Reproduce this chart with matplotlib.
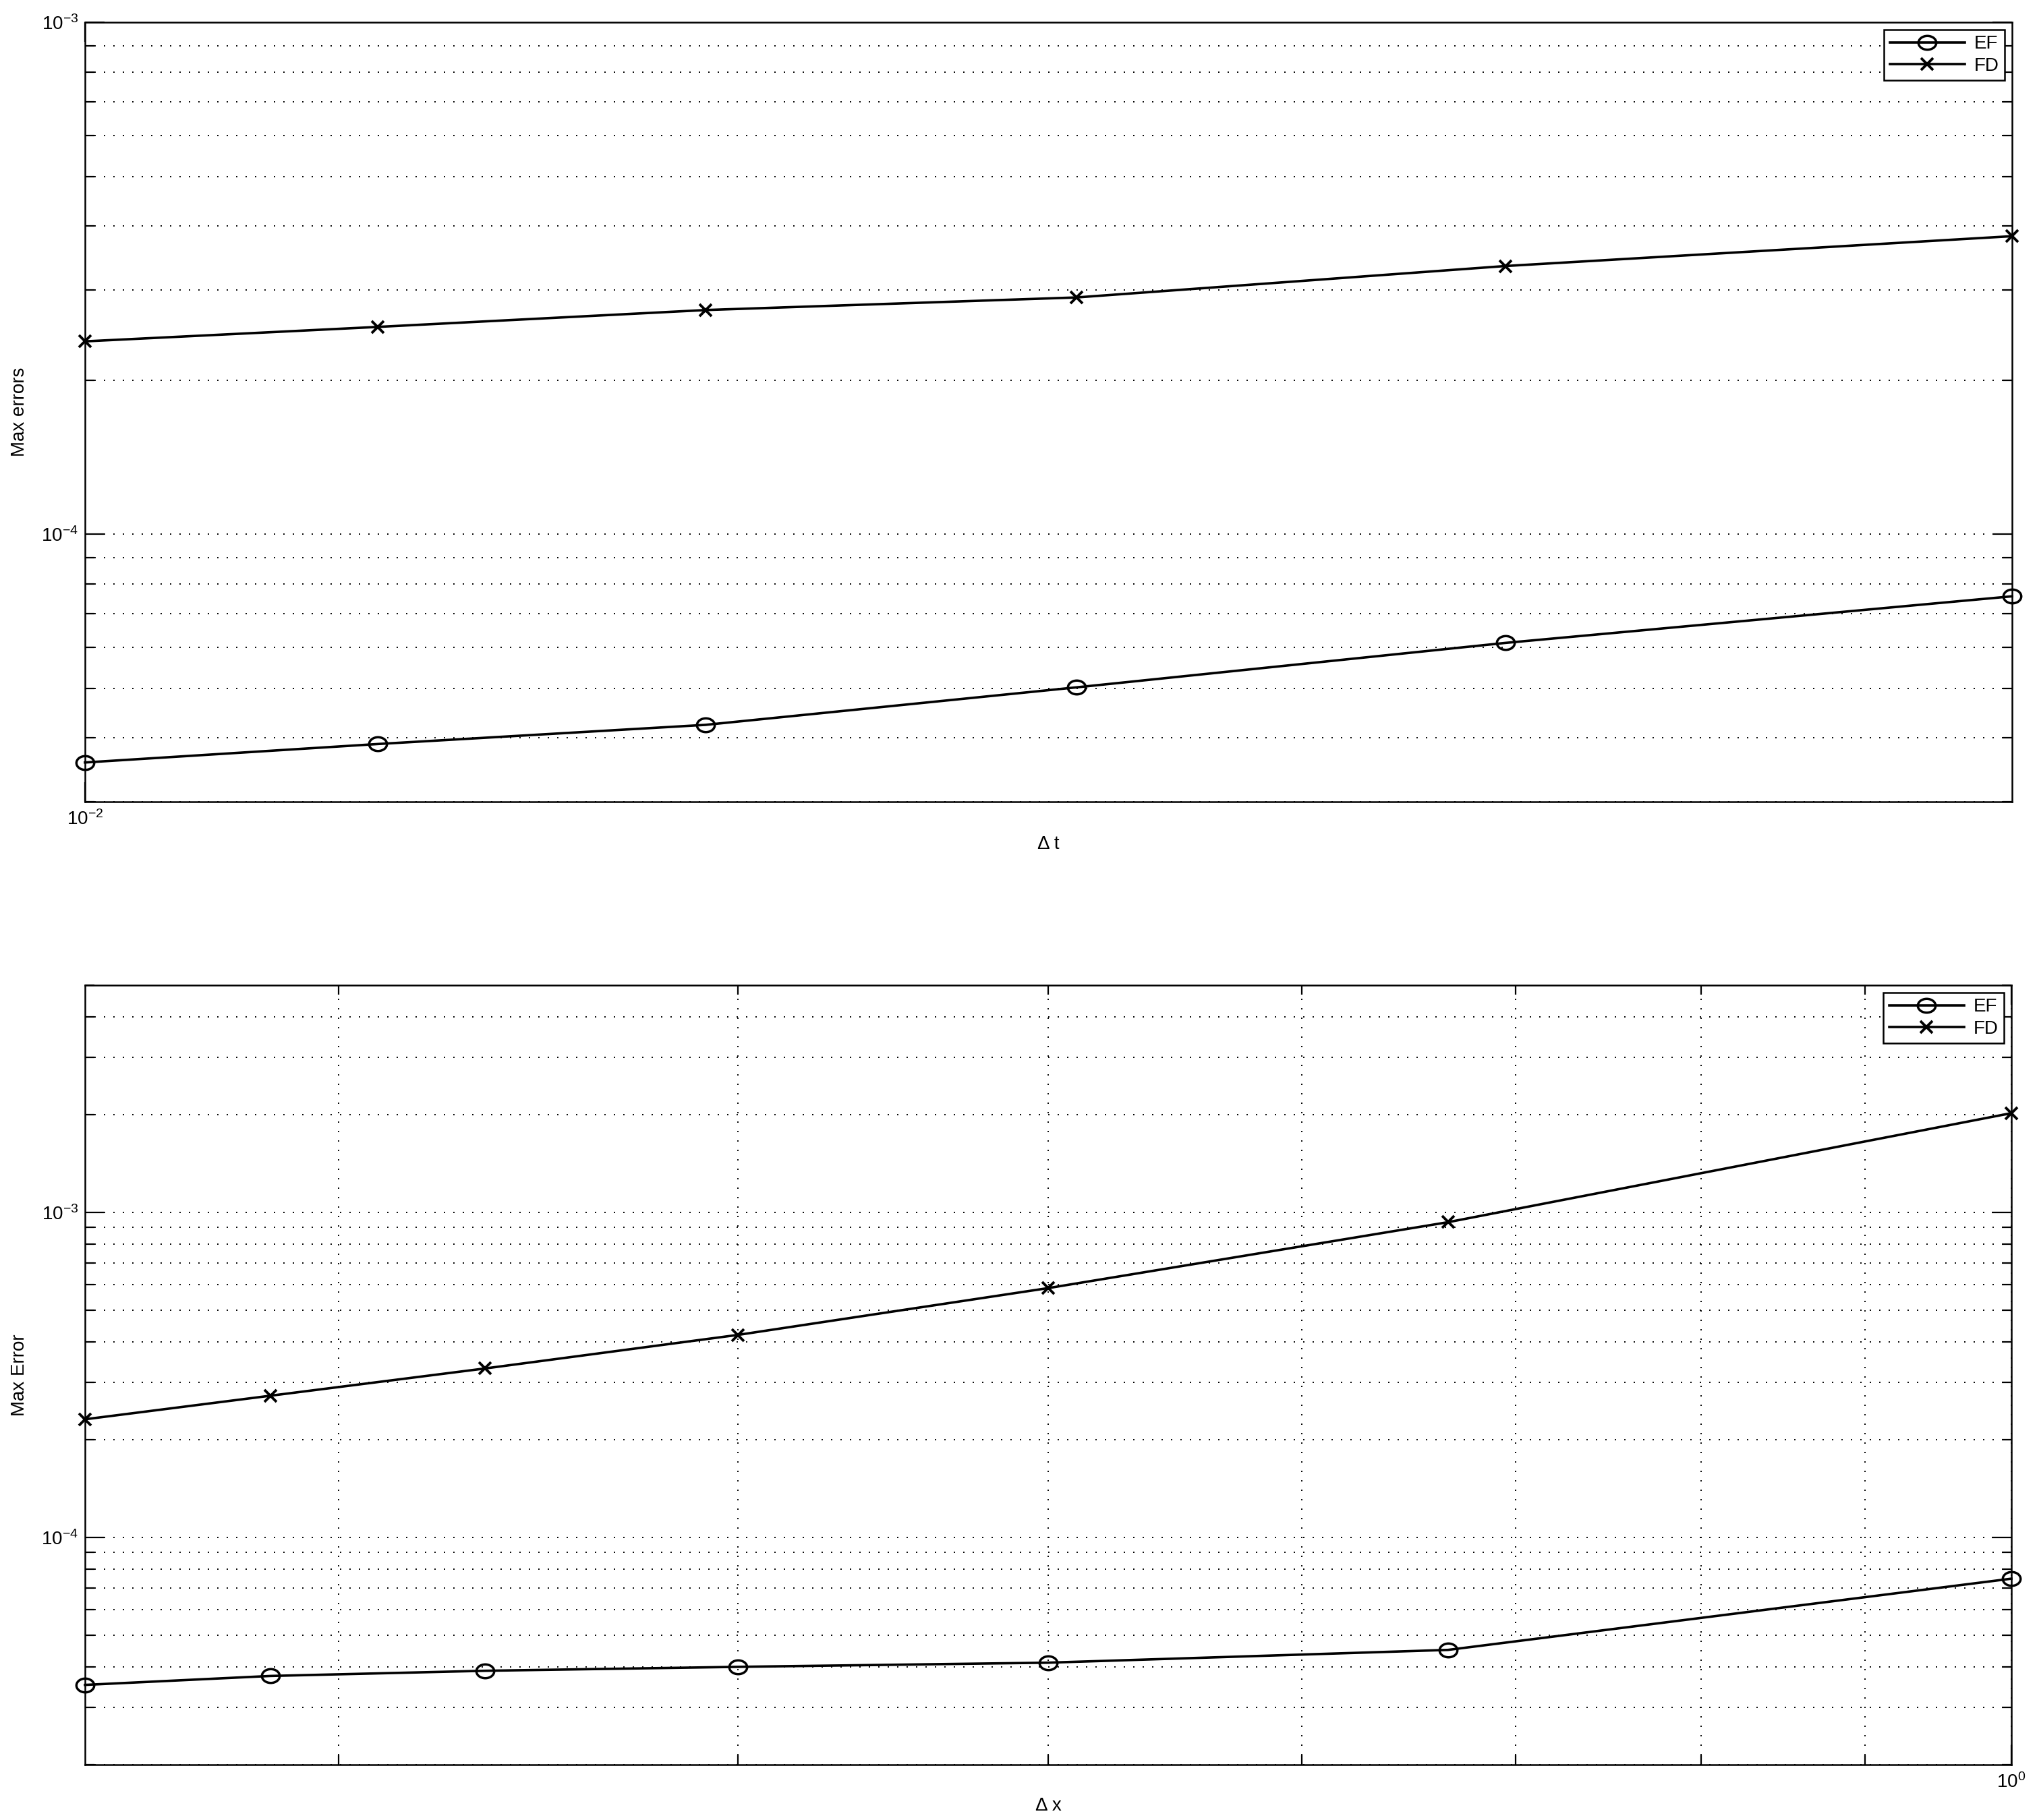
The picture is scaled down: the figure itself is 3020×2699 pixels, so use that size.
import matplotlib
matplotlib.use("Agg")
import matplotlib.pyplot as plt
from matplotlib.ticker import FixedLocator, LogFormatterMathtext, NullFormatter
from matplotlib.path import Path
from matplotlib.transforms import Affine2D

# ---------------- data ----------------
dt = [0.01, 0.011111, 0.0125, 0.014286, 0.016667, 0.02]
top_EF = [3.58e-5, 3.89e-5, 4.24e-5, 5.02e-5, 6.13e-5, 7.56e-5]
top_FD = [2.38e-4, 2.54e-4, 2.74e-4, 2.90e-4, 3.34e-4, 3.82e-4]

dx = [0.25, 0.285714, 0.333333, 0.4, 0.5, 0.666667, 1.0]
bot_EF = [3.52e-5, 3.75e-5, 3.89e-5, 4.00e-5, 4.12e-5, 4.51e-5, 7.47e-5]
bot_FD = [2.31e-4, 2.73e-4, 3.31e-4, 4.20e-4, 5.85e-4, 9.33e-4, 2.02e-3]

labels = ["EF", "FD"]
top_xlabel = "\u0394 t"
bot_xlabel = "\u0394 x"
top_ylabel = "Max errors"
bot_ylabel = "Max Error"

top_xlim = (0.01, 0.02)
top_ylim = (3e-5, 1e-3)
bot_xlim = (0.25, 1.0)
bot_ylim = (2e-5, 5e-3)

# ---------------- style ----------------
plt.rcParams['font.family'] = ['Liberation Sans', 'DejaVu Sans']
plt.rcParams['mathtext.fontset'] = 'custom'
plt.rcParams['mathtext.rm'] = 'Liberation Sans'
plt.rcParams['mathtext.it'] = 'Liberation Sans:italic'
plt.rcParams['mathtext.bf'] = 'Liberation Sans:bold'

FS = 20
ell = Path.unit_circle().transformed(Affine2D().scale(1.29, 1.0))

fig = plt.figure(figsize=(30.2, 26.99), dpi=100)
W, H = 3020, 2699

def make_axes(l, t, r, b):
    return fig.add_axes([l / W, 1 - b / H, (r - l) / W, (b - t) / H])

ax1 = make_axes(126, 33, 2983, 1189)
ax2 = make_axes(126, 1461, 2982, 2617)

grid_kw = dict(color='black', linestyle=(0, (1, 6.2)), linewidth=1.4)

def style(ax, xlim, ylim, xmaj, xmin, ymaj, ymin):
    ax.set_xscale('log')
    ax.set_yscale('log')
    ax.set_xlim(*xlim)
    ax.set_ylim(*ylim)
    ax.xaxis.set_major_locator(FixedLocator(xmaj))
    ax.xaxis.set_minor_locator(FixedLocator(xmin))
    ax.yaxis.set_major_locator(FixedLocator(ymaj))
    ax.yaxis.set_minor_locator(FixedLocator(ymin))
    ax.xaxis.set_major_formatter(LogFormatterMathtext())
    ax.yaxis.set_major_formatter(LogFormatterMathtext())
    ax.xaxis.set_minor_formatter(NullFormatter())
    ax.yaxis.set_minor_formatter(NullFormatter())
    ax.tick_params(which='both', direction='in', top=True, right=True,
                   labelsize=FS, width=1.6, color='black')
    ax.tick_params(which='major', length=21)
    ax.tick_params(which='minor', length=10)
    ax.tick_params(axis='x', which='major', pad=9)
    ax.tick_params(axis='y', which='major', pad=7)
    for s in ax.spines.values():
        s.set_linewidth(1.8)
    ax.grid(True, which='both', **grid_kw)
    ax.set_axisbelow(True)

style(ax1, top_xlim, top_ylim, [0.01], [],
      [1e-4, 1e-3], [3e-5, 4e-5, 5e-5, 6e-5, 7e-5, 8e-5, 9e-5,
                     2e-4, 3e-4, 4e-4, 5e-4, 6e-4, 7e-4, 8e-4, 9e-4])
style(ax2, bot_xlim, bot_ylim, [1.0], [0.3, 0.4, 0.5, 0.6, 0.7, 0.8, 0.9],
      [1e-4, 1e-3], [2e-5, 3e-5, 4e-5, 5e-5, 6e-5, 7e-5, 8e-5, 9e-5,
                     2e-4, 3e-4, 4e-4, 5e-4, 6e-4, 7e-4, 8e-4, 9e-4,
                     2e-3, 3e-3, 4e-3, 5e-3])

line_kw = dict(color='black', linewidth=2.6, clip_on=False, zorder=5)
o_kw = dict(marker=ell, markersize=19, markerfacecolor='none',
            markeredgecolor='black', markeredgewidth=2.5)
x_kw = dict(marker='x', markersize=13, markeredgecolor='black',
            markeredgewidth=2.8)

for ax, x, ef, fd in [(ax1, dt, top_EF, top_FD), (ax2, dx, bot_EF, bot_FD)]:
    ax.plot(x, ef, label=labels[0], **line_kw, **o_kw)
    ax.plot(x, fd, label=labels[1], **line_kw, **x_kw)
    leg = ax.legend(loc='upper right', fontsize=FS, frameon=True, fancybox=False,
                    edgecolor='black', framealpha=1, borderaxespad=0.4,
                    handlelength=4.0, handletextpad=0.5, labelspacing=0.22,
                    borderpad=0.3)
    leg.get_frame().set_linewidth(1.8)
    leg.set_zorder(10)

# axis labels
fig.text((126 + 2983) / 2 / W, 1 - 1252 / H, top_xlabel, ha='center', va='center', fontsize=FS)
fig.text((126 + 2982) / 2 / W, 1 - 2678 / H, bot_xlabel, ha='center', va='center', fontsize=FS)
fig.text(29 / W, 1 - 611 / H, top_ylabel, ha='center', va='center', rotation=90, fontsize=FS)
fig.text(29 / W, 1 - 2039 / H, bot_ylabel, ha='center', va='center', rotation=90, fontsize=FS)

fig.savefig("out.png", dpi=100, facecolor='white')
